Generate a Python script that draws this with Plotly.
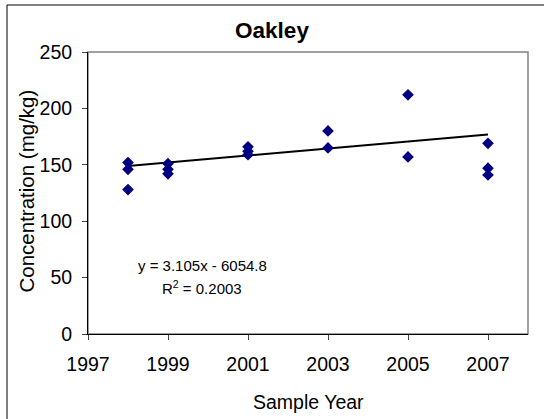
import plotly.graph_objects as go

years = [1998, 1998, 1998, 1999, 1999, 1999, 2001, 2001, 2001, 2003, 2003, 2005, 2005, 2007, 2007, 2007]
conc = [152, 146, 128, 151, 146, 142, 166, 162, 159, 180, 165, 212, 157, 169, 147, 141]
slope = 3.105
intercept = -6054.8
r2 = 0.2003
x_ticks = [1997, 1999, 2001, 2003, 2005, 2007]
y_ticks = [0, 50, 100, 150, 200, 250]

trend_x = [min(years), max(years)]
trend_y = [slope * x + intercept for x in trend_x]

FONT = "Liberation Sans, Arial, sans-serif"

fig = go.Figure()
fig.add_trace(go.Scatter(x=trend_x, y=trend_y, mode="lines",
                         line=dict(color="black", width=2), showlegend=False))
fig.add_trace(go.Scatter(x=years, y=conc, mode="markers",
                         marker=dict(symbol="diamond", color="#000080", size=9),
                         showlegend=False))

fig.update_layout(
    width=544, height=419,
    margin=dict(l=88, r=16, t=52, b=85),
    paper_bgcolor="white", plot_bgcolor="white",
    font=dict(family=FONT, color="black", size=19.5),
    title=dict(text="<b>Oakley</b>", x=0.5, xref="container", xanchor="center",
               y=(419 - 30) / 419, yref="container", yanchor="middle",
               font=dict(size=22.5, family=FONT)),
    xaxis=dict(range=[1997, 2008], tickvals=x_ticks, ticks="outside", ticklen=5,
               showgrid=False, zeroline=False, showline=True, linecolor="black", linewidth=1,
               automargin=False, tickfont=dict(size=19.5), ticklabelstandoff=8),
    yaxis=dict(range=[0, 250], tickvals=y_ticks, ticks="outside", ticklen=5,
               showgrid=False, zeroline=False, showline=True, linecolor="black", linewidth=1,
               automargin=False, tickfont=dict(size=19.5), ticklabelstandoff=6),
)

# grey plot-area border on top and right
fig.add_shape(type="rect", xref="paper", yref="paper", x0=0, y0=0, x1=1, y1=1,
              line=dict(color="#808080", width=1.5), layer="below")
# outer chart frame
fig.add_shape(type="rect", xref="paper", yref="paper",
              x0=(7 - 88) / 440, x1=(546 - 88) / 440,
              y0=(334 - 421) / 282, y1=(334 - 5) / 282,
              line=dict(color="black", width=1))

# axis titles
fig.add_annotation(x=0.5, y=(334 - 401.5) / 282, xref="paper", yref="paper",
                   showarrow=False, text="Sample Year", font=dict(size=19.5),
                   xanchor="center", yanchor="middle")
fig.add_annotation(x=(25.5 - 88) / 440, y=(334 - 191) / 282, xref="paper", yref="paper",
                   showarrow=False, text="Concentration (mg/kg)", textangle=-90,
                   font=dict(size=20.5), xanchor="center", yanchor="middle")

# trendline equation
fig.add_annotation(x=1999.85, y=61, xref="x", yref="y", showarrow=False,
                   text=f"y = {slope}x - {abs(intercept)}", font=dict(size=15))
fig.add_annotation(x=1999.85, y=41, xref="x", yref="y", showarrow=False,
                   text=f"R<sup>2</sup> = {r2}", font=dict(size=15))

fig.write_html("out.html", config={"displayModeBar": False},
               post_script="document.body.style.margin='0';document.body.style.overflow='hidden';")
